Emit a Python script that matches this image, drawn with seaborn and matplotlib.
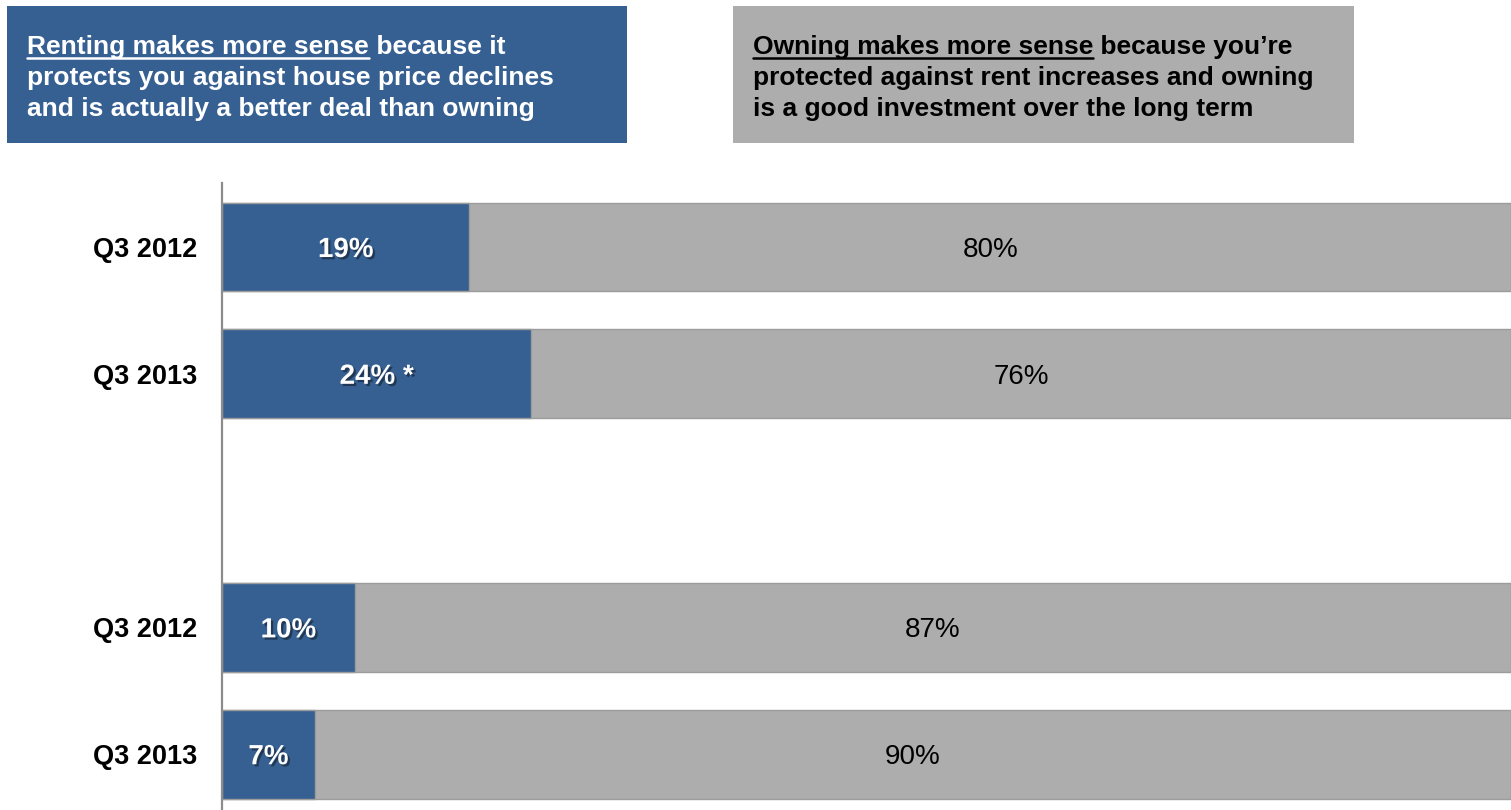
import matplotlib
matplotlib.use("Agg")
import matplotlib.pyplot as plt
import matplotlib.patheffects as pe
from matplotlib.patches import Rectangle
from matplotlib.lines import Line2D
import seaborn as sns
import pandas as pd

# ---------------- data ----------------
periods = ["Q3 2012", "Q3 2013", "Q3 2012", "Q3 2013"]
group_ids = [0, 0, 1, 1]
rent_pct = [19, 24, 10, 7]
own_pct = [80, 76, 87, 90]
rent_labels = ["19%", "24% *", "10%", "7%"]
own_labels = ["80%", "76%", "87%", "90%"]

rent_head_ul = "Renting makes more sense"
rent_head = [" because it", "protects you against house price declines",
             "and is actually a better deal than owning"]
own_head_ul = "Owning makes more sense"
own_head = [" because you\u2019re", "protected against rent increases and owning",
            "is a good investment over the long term"]

BLUE = "#366092"
GREY = "#ADADAD"

sns.set_theme(style="white")
plt.rcParams["font.family"] = ["Liberation Sans", "DejaVu Sans"]

W, H, DPI = 1511, 810, 100
fig = plt.figure(figsize=(W / DPI, H / DPI), dpi=DPI)
fig.patch.set_facecolor("white")


def fx(x):
    return x / W


def fy(y):
    return 1 - y / H


ax = fig.add_axes([fx(222), 0, 1 - fx(222), fy(183)])

df = pd.DataFrame({"period": periods, "group": group_ids,
                   "rent": rent_pct, "own": own_pct})
df["slot"] = df.groupby("group").cumcount()
df["pos"] = df["group"] * 3 + df["slot"]
df["total"] = df["rent"] + df["own"]
df["rent_share"] = df["rent"] / df["total"] * 100
df["full"] = df["total"] / df["total"] * 100

common = dict(orient="y", native_scale=True, width=0.7, errorbar=None,
              saturation=1, edgecolor="#9c9c9c", linewidth=1.0, ax=ax)
sns.barplot(data=df, x="full", y="pos", color=GREY, **common)
sns.barplot(data=df, x="rent_share", y="pos", color=BLUE, **common)

shadow = [pe.withSimplePatchShadow(offset=(1.6, -1.6), shadow_rgbFace="#1a2b40", alpha=0.75)]
for i, row in df.iterrows():
    ax.text(row["rent_share"] / 2, row["pos"], rent_labels[i], ha="center", va="center_baseline",
            color="white", fontsize=20, fontweight="bold", path_effects=shadow)
    ax.text(row["rent_share"] + (100 - row["rent_share"]) / 2, row["pos"], own_labels[i],
            ha="center", va="center_baseline", color="black", fontsize=20)

ax.set_xlim(0, 100)
ax.set_ylim(4.44, -0.505)
ax.set_yticks(df["pos"])
ax.set_yticklabels(df["period"], fontsize=19.5, fontweight="bold", color="black")
ax.set_xticks([])
ax.set_xlabel("")
ax.set_ylabel("")
ax.tick_params(axis="y", length=0, pad=18)
for s in ["top", "right", "bottom"]:
    ax.spines[s].set_visible(False)
ax.spines["left"].set_color("#8c8c8c")
ax.spines["left"].set_linewidth(1.6)

# ---------------- header boxes ----------------
fig.add_artist(Rectangle((fx(7), fy(143)), fx(620), (137) / H, transform=fig.transFigure,
                         facecolor=BLUE, edgecolor="none"))
fig.add_artist(Rectangle((fx(733), fy(143)), fx(621), (137) / H, transform=fig.transFigure,
                         facecolor=GREY, edgecolor="none"))

renderer = fig.canvas.get_renderer()
HEAD_FS = 19


def header(x0, y_base, ul_text, lines, color):
    t1 = fig.text(fx(x0), fy(y_base), ul_text, color=color, fontsize=HEAD_FS,
                  fontweight="bold", ha="left", va="baseline")
    bb = t1.get_window_extent(renderer=renderer)
    fig.text(bb.x1 / W, fy(y_base), lines[0], color=color, fontsize=HEAD_FS,
             fontweight="bold", ha="left", va="baseline")
    fig.add_artist(Line2D([bb.x0 / W, bb.x1 / W], [fy(y_base + 4), fy(y_base + 4)],
                          transform=fig.transFigure, color=color, linewidth=1.8))
    for k, ln in enumerate(lines[1:]):
        fig.text(fx(x0), fy(y_base + 31 * (k + 1)), ln, color=color, fontsize=HEAD_FS,
                 fontweight="bold", ha="left", va="baseline")


header(27, 54, rent_head_ul, rent_head, "white")
header(753, 54, own_head_ul, own_head, "black")

fig.savefig("out.png", dpi=DPI)
